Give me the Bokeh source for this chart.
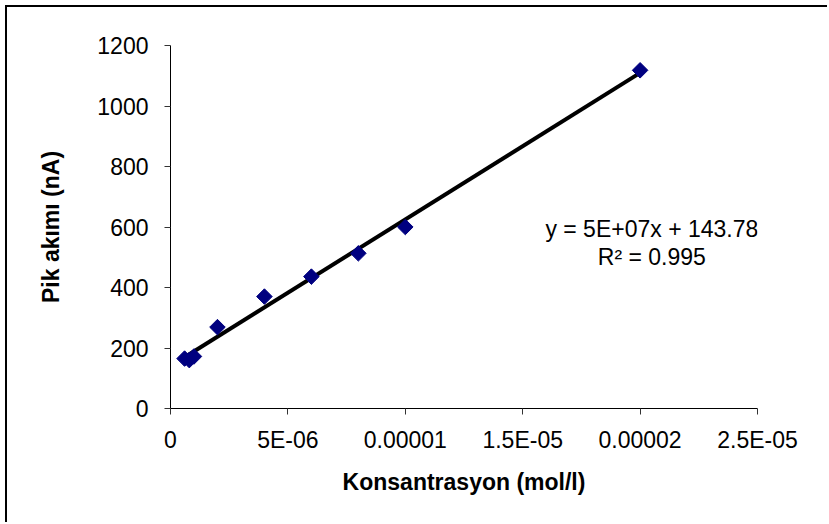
import numpy as np
from bokeh.plotting import figure
from bokeh.models import FixedTicker, Label, Range1d
from bokeh.embed import file_html
from bokeh.resources import INLINE

# ---- data ----
conc = [6e-7, 8e-7, 1e-6, 2e-6, 4e-6, 6e-6, 8e-6, 1e-5, 2e-5]
current = [165, 160, 172, 269, 370, 436, 513, 600, 1118]

x_ticks = [0, 5e-6, 1e-5, 1.5e-5, 2e-5, 2.5e-5]
x_tick_labels = ["0", "5E-06", "0.00001", "1.5E-05", "0.00002", "2.5E-05"]
y_ticks = [0, 200, 400, 600, 800, 1000, 1200]

x_title = "Konsantrasyon (mol/l)"
y_title = "Pik akımı (nA)"
eq_text = "y = 5E+07x + 143.78"
r2_text = "R² = 0.995"

FONT = "Liberation Sans"

p = figure(width=822, height=517, output_backend="svg", toolbar_location=None,
           x_range=Range1d(0, 2.5e-5), y_range=Range1d(0, 1200),
           min_border_left=163, min_border_top=38, min_border_right=72,
           min_border_bottom=116,
           styles={"border-left": "2px solid black", "border-top": "2px solid black",
                   "margin-left": "5px", "margin-top": "5px"})
p.outline_line_color = None
p.xgrid.visible = False
p.ygrid.visible = False
p.background_fill_color = "white"
p.border_fill_color = "white"

# trend line (least squares)
slope, intercept = np.polyfit(conc, current, 1)
xl = [min(conc), max(conc)]
p.line(xl, [slope * v + intercept for v in xl], line_color="black", line_width=4)

p.scatter(conc, current, marker="square", angle=np.pi / 4, size=11,
          fill_color="#000080", line_color="#000080")

# axes
for ax in (p.xaxis[0], p.yaxis[0]):
    ax.axis_line_color = "black"
    ax.axis_line_width = 1
    ax.major_tick_line_color = "#333333"
    ax.minor_tick_line_color = None
    ax.major_tick_in = 0
    ax.major_tick_out = 6
    ax.major_label_text_font = FONT
    ax.major_label_text_font_size = "23px"
    ax.major_label_text_color = "black"
    ax.axis_label_text_font = FONT
    ax.axis_label_text_font_style = "bold"
    ax.axis_label_text_font_size = "23px"
    ax.axis_label_text_color = "black"

p.xaxis.ticker = FixedTicker(ticks=x_ticks)
p.xaxis.major_label_overrides = {t: l for t, l in zip(x_ticks, x_tick_labels)}
p.xaxis.axis_label = x_title
p.xaxis.major_label_standoff = 12
p.xaxis.axis_label_standoff = 13

p.yaxis.ticker = FixedTicker(ticks=y_ticks)
p.yaxis.axis_label = y_title
p.yaxis.major_label_standoff = 16
p.yaxis.axis_label_standoff = 30

p.add_layout(Label(x=2.05e-5, y=593, text=eq_text, text_align="center",
                   text_baseline="alphabetic", text_font=FONT,
                   text_font_size="23px", text_color="black"))
p.add_layout(Label(x=2.05e-5, y=500, text=r2_text, text_align="center",
                   text_baseline="alphabetic", text_font=FONT,
                   text_font_size="23px", text_color="black"))

open("out.html", "w").write(file_html(p, INLINE))
